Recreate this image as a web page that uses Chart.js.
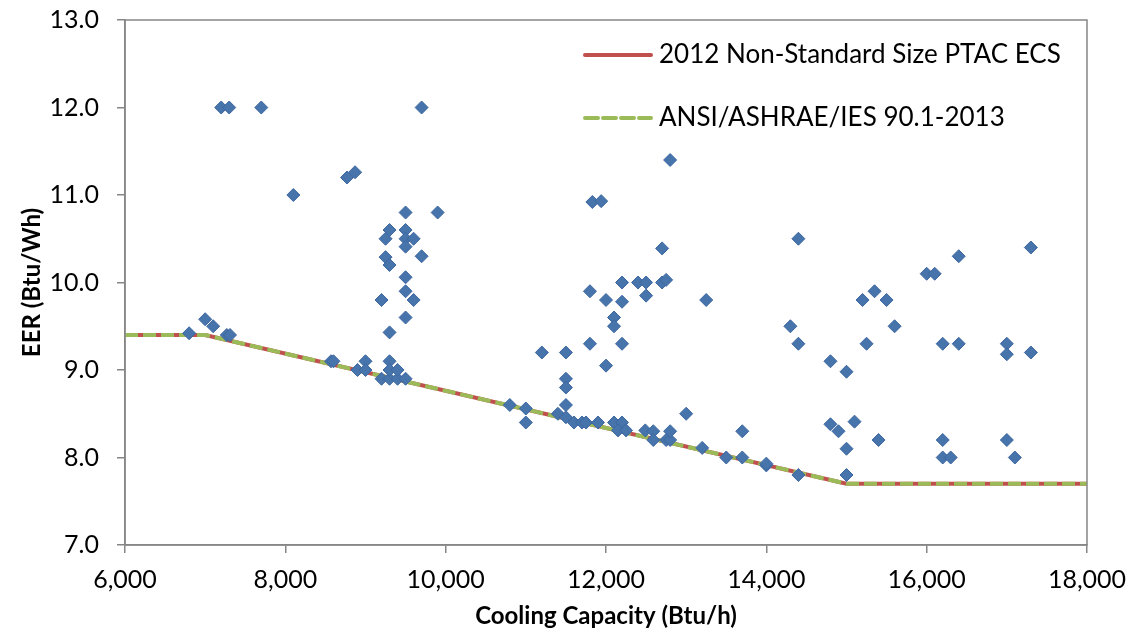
<!DOCTYPE html>
<html>
<head>
<meta charset="utf-8">
<title>PTAC EER vs cooling capacity</title>
<script src="https://cdn.jsdelivr.net/npm/chart.js@4.4.0/dist/chart.umd.min.js"></script>
<style>
  html, body { margin: 0; padding: 0; background: #fff; }
</style>
</head>
<body>
<canvas id="eer" width="1133" height="633"></canvas>
<script>
// product listings (cooling capacity in Btu/h, EER in Btu/Wh)
var productCapacity = [
  6800, 7000, 7100, 7200, 7300, 7700, 7270, 7310, 8100, 8770,
  8870, 8570, 8600, 8900, 9000, 9000, 9200, 9250, 9300, 9250,
  9300, 9300, 9200, 9300, 9400, 9500, 9300, 9300, 9400, 9500,
  9500, 9500, 9500, 9600, 9500, 9500, 9600, 9500, 9700, 9700,
  9900, 10800, 11000, 11000, 11200, 11400, 11500, 11500, 11600, 11700,
  11750, 11500, 11500, 11500, 11800, 11800, 11830, 11940, 11900, 12000,
  12000, 12100, 12100, 12200, 12200, 12200, 12100, 12200, 12150, 12250,
  12400, 12500, 12500, 12490, 12590, 12590, 12750, 12800, 12800, 12700,
  12700, 12750, 12800, 13000, 13200, 13250, 13500, 13700, 13700, 14000,
  14000, 14300, 14400, 14400, 14400, 14800, 14800, 14900, 15000, 15000,
  15000, 15100, 15200, 15250, 15350, 15400, 15500, 15600, 16000, 16100,
  16200, 16200, 16200, 16300, 16400, 16400, 17000, 17000, 17000, 17100,
  17300, 17300
];
var productEer = [
  9.42, 9.58, 9.50, 12.0, 12.0, 12.0, 9.40, 9.40, 11.0, 11.20,
  11.26, 9.10, 9.10, 9.00, 9.10, 9.00, 9.80, 10.50, 10.60, 10.29,
  10.20, 9.43, 8.90, 8.90, 8.90, 8.90, 9.10, 9.00, 9.00, 10.80,
  10.60, 10.50, 10.41, 10.50, 10.06, 9.90, 9.80, 9.60, 10.30, 12.0,
  10.80, 8.60, 8.56, 8.40, 9.20, 8.50, 8.60, 8.46, 8.40, 8.40,
  8.40, 9.20, 8.90, 8.80, 9.90, 9.30, 10.92, 10.93, 8.40, 9.80,
  9.05, 9.60, 9.50, 9.78, 10.0, 9.30, 8.40, 8.40, 8.31, 8.31,
  10.0, 10.0, 9.85, 8.31, 8.30, 8.20, 8.20, 8.20, 8.30, 10.39,
  10.0, 10.03, 11.40, 8.50, 8.11, 9.80, 8.00, 8.00, 8.30, 7.91,
  7.93, 9.50, 9.30, 10.50, 7.80, 9.10, 8.38, 8.30, 8.98, 8.10,
  7.80, 8.41, 9.80, 9.30, 9.90, 8.20, 9.80, 9.50, 10.10, 10.10,
  9.30, 8.20, 8.00, 8.00, 10.30, 9.30, 9.30, 9.18, 8.20, 8.00,
  10.40, 9.20
];

// standard curves (break points)
var ecsCapacity = [6000, 7000, 15000, 18000];
var ecsEer = [9.4, 9.4, 7.7, 7.7];
var ashraeCapacity = [6000, 7000, 15000, 18000];
var ashraeEer = [9.4, 9.4, 7.7, 7.7];

var ecsLabel = "2012 Non-Standard Size PTAC ECS";
var ashraeLabel = "ANSI/ASHRAE/IES 90.1-2013";

function pairs(xs, ys) {
  return xs.map(function(x, i) { return { x: x, y: ys[i] }; });
}

var axisGray = "#868686";
var fontFamily = "Lato, 'Open Sans', sans-serif";

// box around the plot area + legend inside it, top right
var framePlugin = {
  id: "frame",
  afterDraw: function(chart) {
    var ctx = chart.ctx, a = chart.chartArea;
    ctx.save();
    ctx.strokeStyle = axisGray;
    ctx.lineWidth = 1.5;
    ctx.strokeRect(a.left, a.top, a.right - a.left, a.bottom - a.top);

    var items = [
      { ds: chart.data.datasets[2], y: a.top + 35 },
      { ds: chart.data.datasets[1], y: a.top + 98 }
    ];
    var x0 = a.left + 458;
    items.forEach(function(it) {
      ctx.beginPath();
      ctx.lineWidth = 4;
      ctx.lineCap = "round";
      ctx.strokeStyle = it.ds.borderColor;
      ctx.setLineDash(it.ds.borderDash || []);
      ctx.moveTo(x0 + 2, it.y);
      ctx.lineTo(x0 + 68, it.y);
      ctx.stroke();
      ctx.setLineDash([]);
      ctx.fillStyle = "#000";
      ctx.font = "26px " + fontFamily;
      ctx.textBaseline = "middle";
      ctx.fillText(it.ds.label, x0 + 76, it.y);
    });
    ctx.restore();
  }
};

var chart = new Chart(document.getElementById("eer"), {
  type: "scatter",
  data: {
    datasets: [
      {
        label: "Products",
        data: pairs(productCapacity, productEer),
        pointStyle: "rectRot",
        pointRadius: 6.5,
        pointHoverRadius: 6.5,
        backgroundColor: "#4674AB",
        borderColor: "#3D67A0",
        borderWidth: 1,
        order: 0
      },
      {
        label: ashraeLabel,
        type: "line",
        data: pairs(ashraeCapacity, ashraeEer),
        borderColor: "#9BBB59",
        borderWidth: 4,
        borderDash: [13, 5],
        pointRadius: 0,
        fill: false,
        tension: 0,
        order: 1
      },
      {
        label: ecsLabel,
        type: "line",
        data: pairs(ecsCapacity, ecsEer),
        borderColor: "#C0504D",
        borderWidth: 4,
        pointRadius: 0,
        fill: false,
        tension: 0,
        order: 2
      }
    ]
  },
  options: {
    responsive: false,
    animation: false,
    layout: { padding: { left: 0, right: 46, top: 0, bottom: 0 } },
    plugins: {
      legend: { display: false },
      tooltip: { enabled: false }
    },
    scales: {
      x: {
        type: "linear",
        min: 6000,
        max: 18000,
        afterFit: function(s) { s.height = 88; },
        grid: { drawOnChartArea: false, drawTicks: true, tickLength: 8, color: axisGray, lineWidth: 1.5 },
        border: { color: axisGray, width: 1.5 },
        ticks: {
          stepSize: 2000,
          padding: 6,
          color: "#000",
          font: { family: fontFamily, size: 25, lineHeight: 1.68 },
          callback: function(v) { return v.toLocaleString("en-US"); }
        },
        title: {
          display: true,
          text: "Cooling Capacity (Btu/h)",
          color: "#000",
          font: { family: fontFamily, size: 24, weight: "bold" },
          padding: { top: 4, bottom: 2 }
        }
      },
      y: {
        min: 7,
        max: 13,
        afterFit: function(s) { s.width = 125; },
        grid: { drawOnChartArea: false, drawTicks: true, tickLength: 8, color: axisGray, lineWidth: 1.5 },
        border: { color: axisGray, width: 1.5 },
        ticks: {
          stepSize: 1,
          padding: 18,
          color: "#000",
          font: { family: fontFamily, size: 25, lineHeight: 0.16 },
          callback: function(v) { return v.toFixed(1); }
        },
        title: {
          display: true,
          text: "EER (Btu/Wh)",
          color: "#000",
          font: { family: fontFamily, size: 24, weight: "bold" },
          padding: { top: 18, bottom: 4 }
        }
      }
    }
  },
  plugins: [framePlugin]
});
</script>
</body>
</html>
